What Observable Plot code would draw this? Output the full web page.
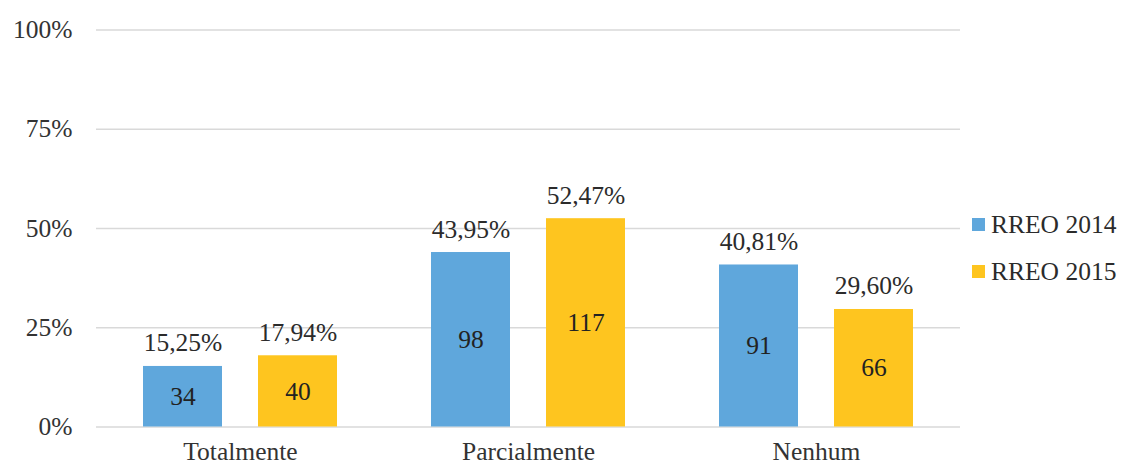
<!DOCTYPE html>
<html>
<head>
<meta charset="utf-8">
<script src="https://cdn.jsdelivr.net/npm/d3@7"></script>
<script src="https://cdn.jsdelivr.net/npm/@observablehq/plot@0.6"></script>
<style>
  html, body { margin: 0; padding: 0; background: #fff; }
  #chart { position: relative; width: 1124px; height: 468px; font-family: "Liberation Serif", "Times New Roman", serif; }
  .legend { position: absolute; left: 972px; top: 201px; font-size: 25.5px; color: #2b2b2b; line-height: 47px; }
  .legend div { display: flex; align-items: center; white-space: nowrap; }
  .legend span.sw { display: inline-block; width: 13px; height: 13px; margin-right: 6px; }
</style>
</head>
<body>
<div id="chart"></div>
<script>
// Categories and series
const categories = ["Totalmente", "Parcialmente", "Nenhum"];
const series = ["RREO 2014", "RREO 2015"];
const colors = ["#5fa7dc", "#fec51f"];

// Share of reports (%) and counts per category
const pct2014 = [15.25, 43.95, 40.81];
const pct2015 = [17.94, 52.47, 29.60];
const count2014 = [34, 98, 91];
const count2015 = [40, 117, 66];

const yTicks = [0, 25, 50, 75, 100];

const rows = [];
categories.forEach((c, i) => {
  rows.push({cat: c, serie: series[0], pct: pct2014[i], n: count2014[i]});
  rows.push({cat: c, serie: series[1], pct: pct2015[i], n: count2015[i]});
});

const fmtPct = v => v.toFixed(2).replace(".", ",") + "%";

const chart = Plot.plot({
  width: 1124,
  height: 468,
  marginLeft: 96,
  marginRight: 164,
  marginTop: 29.5,
  marginBottom: 41.5,
  style: {fontFamily: "'Liberation Serif', 'Times New Roman', serif", fontSize: "25.5px", color: "#333", background: "#fff"},
  // contiguous category bands so the gridlines run unbroken across the frame
  fx: {domain: categories, padding: 0, label: null, axis: "bottom", tickSize: 0, tickPadding: 15},
  x: {domain: series, paddingInner: 0.313, paddingOuter: 0.408, axis: null},
  y: {domain: [0, 100], ticks: yTicks, tickFormat: d => d + "%", tickSize: 0, tickPadding: 24, label: null},
  color: {domain: series, range: colors},
  marks: [
    Plot.ruleY(yTicks, {stroke: "#d9d9d9", strokeWidth: 1.5}),
    Plot.barY(rows, {fx: "cat", x: "serie", y: "pct", fill: "serie"}),
    Plot.text(rows, {fx: "cat", x: "serie", y: "pct", text: d => fmtPct(d.pct), lineAnchor: "bottom", dy: -15, fill: "#2b2b2b"}),
    Plot.text(rows, {fx: "cat", x: "serie", y: d => d.pct / 2, text: "n", fill: "#222"})
  ]
});

const root = document.getElementById("chart");
root.appendChild(chart);

const legend = document.createElement("div");
legend.className = "legend";
series.forEach((s, i) => {
  const item = document.createElement("div");
  const sw = document.createElement("span");
  sw.className = "sw";
  sw.style.background = colors[i];
  item.appendChild(sw);
  item.appendChild(document.createTextNode(s));
  legend.appendChild(item);
});
root.appendChild(legend);
</script>
</body>
</html>
